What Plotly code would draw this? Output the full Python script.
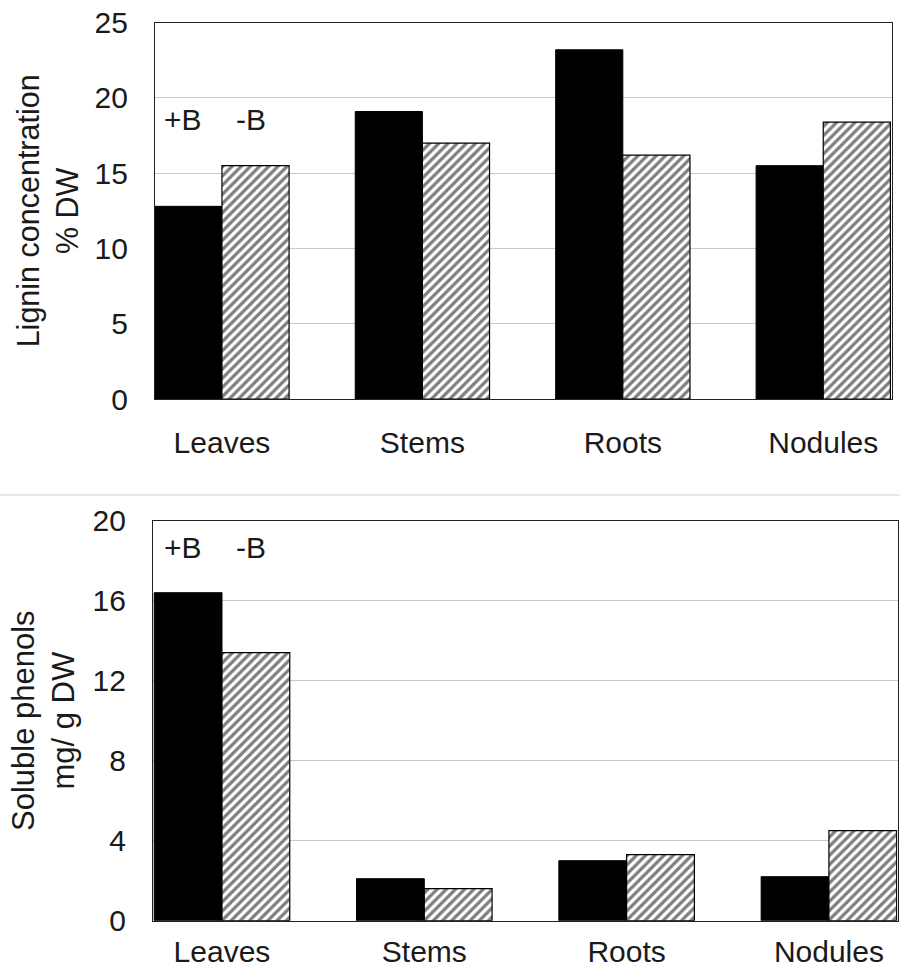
import plotly.graph_objects as go

categories = ["Leaves", "Stems", "Roots", "Nodules"]
lignin_plusB = [12.8, 19.1, 23.2, 15.5]
lignin_minusB = [15.5, 17.0, 16.2, 18.4]
phenols_plusB = [16.4, 2.1, 3.0, 2.2]
phenols_minusB = [13.4, 1.6, 3.3, 4.5]
lignin_ticks = [0, 5, 10, 15, 20, 25]
phenol_ticks = [0, 4, 8, 12, 16, 20]

FONT = "Liberation Sans, Arial, sans-serif"
TXT = "#1a1a1a"
FS = 30

solid = dict(color="black", line=dict(color="black", width=1))
hatch = dict(color="white",
             pattern=dict(shape="/", fgcolor="black", bgcolor="white", size=6.5, solidity=0.5),
             line=dict(color="black", width=1.2))

fig = go.Figure()
fig.add_trace(go.Bar(x=categories, y=lignin_plusB, name="+B", marker=solid, xaxis="x", yaxis="y"))
fig.add_trace(go.Bar(x=categories, y=lignin_minusB, name="-B", marker=hatch, xaxis="x", yaxis="y"))
fig.add_trace(go.Bar(x=categories, y=phenols_plusB, name="+B", marker=solid, xaxis="x2", yaxis="y2"))
fig.add_trace(go.Bar(x=categories, y=phenols_minusB, name="-B", marker=hatch, xaxis="x2", yaxis="y2"))

W, H = 900, 974
axis_common = dict(showline=True, linecolor="#222", linewidth=1.2, mirror=True, automargin=False,
                   ticks="", tickfont=dict(family=FONT, size=FS, color=TXT), zeroline=False)

fig.update_layout(
    width=W, height=H, margin=dict(l=0, r=0, t=0, b=0, autoexpand=False),
    paper_bgcolor="white", plot_bgcolor="white",
    showlegend=False, barmode="group", bargap=0.33, bargroupgap=0,
    font=dict(family=FONT, size=FS, color=TXT),
    xaxis=dict(domain=[155 / W, 892 / W], anchor="y", range=[-0.334, 3.343],
               ticklabelstandoff=17, showgrid=False, **axis_common),
    yaxis=dict(domain=[1 - 399 / H, 1 - 22.7 / H], anchor="x", range=[0, 25],
               tickvals=lignin_ticks, ticklabelstandoff=20,
               showgrid=True, gridcolor="#c8c8c8", gridwidth=1,
               title=dict(text="Lignin concentration<br>% DW", standoff=6,
                          font=dict(family=FONT, size=30.5, color=TXT)),
               **axis_common),
    xaxis2=dict(domain=[153 / W, 897.5 / W], anchor="y2", range=[-0.341, 3.339],
                ticklabelstandoff=4, showgrid=False, **axis_common),
    yaxis2=dict(domain=[1 - 920.7 / H, 1 - 520.7 / H], anchor="x2", range=[0, 20],
                tickvals=phenol_ticks, ticklabelstandoff=20,
                showgrid=True, gridcolor="#c8c8c8", gridwidth=1,
                title=dict(text="Soluble phenols<br>mg/ g DW", standoff=8,
                           font=dict(family=FONT, size=31, color=TXT)),
                **axis_common),
)

for xr, yr, yv in [("x", "y", 18.55), ("x2", "y2", 18.64)]:
    fig.add_annotation(x=-0.195, y=yv, xref=xr, yref=yr, text="+B", showarrow=False,
                       font=dict(family=FONT, size=FS, color=TXT))
    fig.add_annotation(x=0.145, y=yv, xref=xr, yref=yr, text="-B", showarrow=False,
                       font=dict(family=FONT, size=FS, color=TXT))

# faint separator line between the two panels
fig.add_shape(type="line", xref="paper", yref="paper", x0=0, x1=1,
              y0=1 - 495 / H, y1=1 - 495 / H, line=dict(color="#d0d0d0", width=1))

fig.write_html("out.html")
